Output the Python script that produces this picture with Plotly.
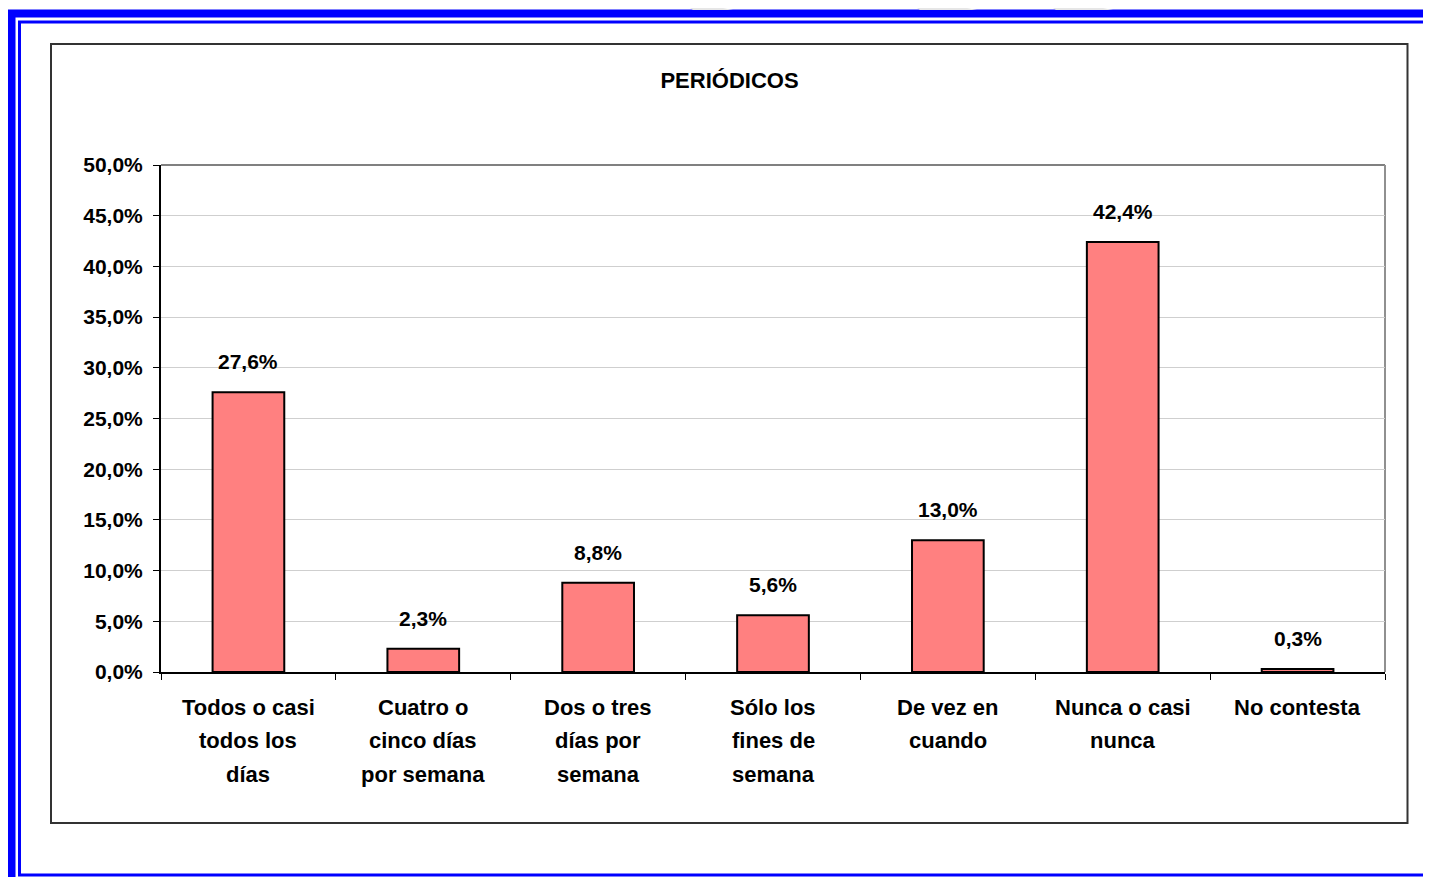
import plotly.graph_objects as go

# datos del gráfico
categorias = [
    "Todos o casi<br>todos los<br>días",
    "Cuatro o<br>cinco días<br>por semana",
    "Dos o tres<br>días por<br>semana",
    "Sólo los<br>fines de<br>semana",
    "De vez en<br>cuando",
    "Nunca o casi<br>nunca",
    "No contesta",
]
porcentajes = [27.6, 2.3, 8.8, 5.6, 13.0, 42.4, 0.3]
y_ticks = [0, 5, 10, 15, 20, 25, 30, 35, 40, 45, 50]

# la página deja 8 px de margen alrededor de la figura
OFF = 8
W, H = 1431 - OFF, 877 - OFF
# área de trazado en píxeles de la página
PL, PR, PT, PB = 161, 1385, 165, 672

FONT = "Liberation Sans, Arial, sans-serif"


def px(x):
    return (x - PL) / (PR - PL)


def py(y):
    return (PB - y) / (PB - PT)


def pct(v):
    return f"{v:.1f}%".replace(".", ",")


fig = go.Figure()
fig.add_trace(go.Bar(
    x=categorias,
    y=porcentajes,
    marker=dict(color="#FF8080", line=dict(color="black", width=2)),
    width=0.41,
    hoverinfo="skip",
))

# etiquetas de valor encima de cada barra
for c, v in zip(categorias, porcentajes):
    fig.add_annotation(
        x=c, y=v, text=pct(v),
        showarrow=False, yanchor="bottom", yshift=17,
        font=dict(family=FONT, size=21, color="black", weight="bold"),
    )

# etiquetas de categoría, línea por línea
for c in categorias:
    for i, linea in enumerate(c.split("<br>")):
        fig.add_annotation(
            x=c, y=py(707 + i * 33.5), yref="paper", text=linea,
            showarrow=False, yanchor="middle",
            font=dict(family=FONT, size=22, color="black", weight="bold"),
        )

shapes = []
# marco azul exterior
shapes.append(dict(type="rect", xref="paper", yref="paper",
                   x0=px(11.5), x1=px(1431 + 20), y0=py(13.5), y1=py(877 + 20),
                   line=dict(color="#0000FF", width=8), layer="below"))
shapes.append(dict(type="rect", xref="paper", yref="paper",
                   x0=px(19.5), x1=px(1431 + 20), y0=py(22), y1=py(875),
                   line=dict(color="#0000FF", width=3), layer="below"))
# marco del gráfico
shapes.append(dict(type="rect", xref="paper", yref="paper",
                   x0=px(51), x1=px(1407.5), y0=py(44), y1=py(823),
                   line=dict(color="#333333", width=2), layer="below"))
# borde superior y derecho del área de trazado
shapes.append(dict(type="line", xref="paper", yref="paper",
                   x0=0, x1=1, y0=1, y1=1,
                   line=dict(color="#808080", width=2), layer="below"))
shapes.append(dict(type="line", xref="paper", yref="paper",
                   x0=1, x1=1, y0=0, y1=1,
                   line=dict(color="#909090", width=2), layer="below"))
# marca de agua gris en la parte superior
for (a, b) in [(690, 733), (917, 977), (1053, 1113)]:
    shapes.append(dict(type="path", xref="paper", yref="paper",
                       path=f"M {px(a)},{py(OFF)} L {px(b - 10)},{py(OFF)} L {px(b)},{py(10)} L {px(a + 3)},{py(10)} Z",
                       fillcolor="#E6E6E6", line=dict(width=0), layer="below"))

fig.update_layout(
    width=W, height=H,
    margin=dict(l=PL - OFF, r=W - (PR - OFF), t=PT - OFF, b=H - (PB - OFF)),
    paper_bgcolor="white", plot_bgcolor="white",
    showlegend=False,
    bargap=0.59,
    shapes=shapes,
    title=dict(
        text="PERIÓDICOS",
        x=(729.5 - OFF) / W, xanchor="center", xref="container",
        y=1 - (80 - OFF) / H, yanchor="middle", yref="container",
        font=dict(family=FONT, size=22, color="black", weight="bold"),
    ),
    xaxis=dict(
        showline=True, linecolor="black", linewidth=2,
        ticks="outside", tickson="boundaries", ticklen=6, tickcolor="black",
        showticklabels=False,
        showgrid=False,
    ),
    yaxis=dict(
        range=[0, 50], tickvals=y_ticks,
        ticktext=[pct(t) for t in y_ticks],
        showline=True, linecolor="black", linewidth=2,
        ticks="outside", ticklen=6, tickcolor="black",
        ticklabelstandoff=6,
        tickfont=dict(family=FONT, size=21, color="black", weight="bold"),
        showgrid=True, gridcolor="#CFCFCF", gridwidth=1,
        zeroline=False,
    ),
)

fig.write_html("out.html")
